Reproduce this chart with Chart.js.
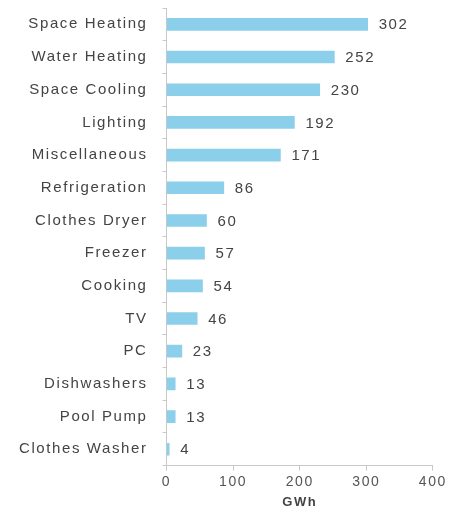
<!DOCTYPE html>
<html>
<head>
<meta charset="utf-8">
<script src="https://cdn.jsdelivr.net/npm/chart.js@4/dist/chart.umd.min.js"></script>
<style>
  html, body { margin: 0; padding: 0; background: #fff; }
  #wrap { width: 450px; height: 524px; }
</style>
</head>
<body>
<div id="wrap"><canvas id="grafico"></canvas></div>
<script>
// datos del grafico
const categorias = ['Space Heating', 'Water Heating', 'Space Cooling', 'Lighting', 'Miscellaneous',
  'Refrigeration', 'Clothes Dryer', 'Freezer', 'Cooking', 'TV', 'PC', 'Dishwashers', 'Pool Pump', 'Clothes Washer'];
const valores = [302, 252, 230, 192, 171, 86, 60, 57, 54, 46, 23, 13, 13, 4];
const ticksX = [0, 100, 200, 300, 400];

const fuente = '"Liberation Sans", Arial, sans-serif';

// el texto del original es mas ancho: espaciado de letras
// (hay que ponerlo en cada update/draw, el canvas se reinicia al redimensionar)
const espaciado = {
  id: 'espaciado',
  beforeUpdate(chart) { chart.ctx.letterSpacing = '1.6px'; },
  beforeDraw(chart) { chart.ctx.letterSpacing = '1.6px'; }
};

// etiquetas de valor al final de cada barra
const etiquetasValor = {
  id: 'etiquetasValor',
  afterDatasetsDraw(chart) {
    const ctx = chart.ctx;
    const meta = chart.getDatasetMeta(0);
    ctx.save();
    ctx.font = '15px ' + fuente;
    ctx.fillStyle = '#444';
    ctx.textAlign = 'left';
    ctx.textBaseline = 'middle';
    meta.data.forEach((bar, i) => {
      ctx.fillText(valores[i], bar.x + 11, bar.y + 1);
    });
    ctx.restore();
  }
};

const ctx = document.getElementById('grafico').getContext('2d');
new Chart(ctx, {
  type: 'bar',
  data: {
    labels: categorias,
    datasets: [{
      label: 'GWh',
      data: valores,
      backgroundColor: '#8ccfea',
      barThickness: 12
    }]
  },
  options: {
    indexAxis: 'y',
    responsive: true,
    maintainAspectRatio: false,
    animation: false,
    layout: { padding: { top: 8, right: 11, left: 4, bottom: 10 } },
    plugins: {
      legend: { display: false },
      tooltip: { enabled: false }
    },
    scales: {
      x: {
        min: 0,
        max: 400,
        afterBuildTicks: scale => { scale.ticks = ticksX.map(v => ({ value: v })); },
        grid: { drawOnChartArea: false, color: '#c8c8c8', tickLength: 5 },
        border: { color: '#c8c8c8' },
        ticks: { color: '#555', font: { size: 14, family: fuente }, padding: 3 },
        title: {
          display: true,
          text: 'GWh',
          color: '#444',
          font: { size: 13, weight: 'bold', family: fuente },
          padding: { top: 1 }
        }
      },
      y: {
        afterFit: s => { s.paddingTop = 0; s.paddingBottom = 0; },
        grid: { drawOnChartArea: false, color: '#c8c8c8', tickLength: 4, offset: true },
        border: { color: '#c8c8c8' },
        ticks: { color: '#444', font: { size: 15, family: fuente }, padding: 15 }
      }
    }
  },
  plugins: [espaciado, etiquetasValor]
});
</script>
</body>
</html>
